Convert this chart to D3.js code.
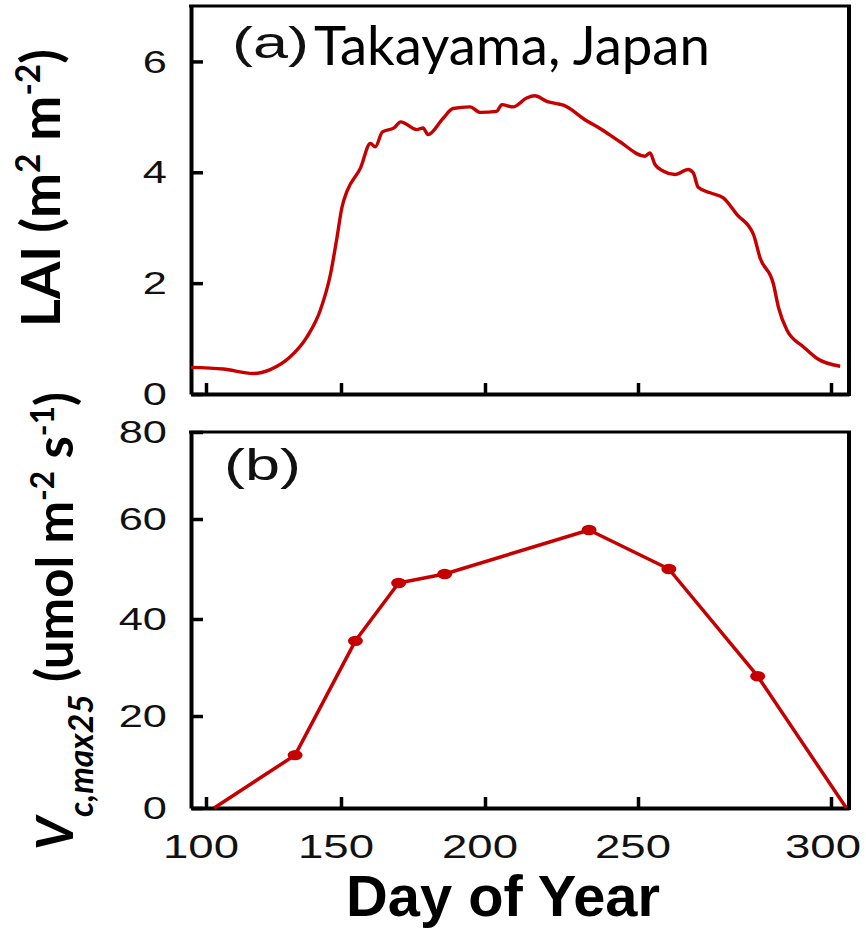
<!DOCTYPE html>
<html>
<head>
<meta charset="utf-8">
<script src="https://cdn.jsdelivr.net/npm/d3@7"></script>
<style>
  html, body { margin: 0; padding: 0; background: #fff; }
  svg { display: block; }
</style>
</head>
<body>
<svg id="chart" width="866" height="936"></svg>
<script>
// ---- data -------------------------------------------------------------
// Leaf area index through the season (day of year, m2 m-2)
const laiDay = [94.1, 106.4, 117.6, 123.8, 131.2, 137.4, 142.4, 146.1, 148.5, 150.3,
  152.1, 156.7, 160.2, 161.9, 164.4, 168.4, 170.7, 176.3, 178.5, 180.2,
  185.4, 188.9, 194.8, 198.3, 203.8, 205.5, 209.2, 213.6, 216.3, 220.2,
  223.4, 225.6, 233.2, 237.6, 244.1, 251.8, 253.1, 254.4, 256.6, 259.6,
  263.0, 264.3, 265.6, 268.7, 272.1, 275.6, 279.9, 281.6, 285.1, 286.4,
  288.6, 292.9, 296.4, 302.4];
const laiValue = [0.48, 0.45, 0.37, 0.44, 0.67, 1.03, 1.52, 2.16, 2.82, 3.36,
  3.66, 4.07, 4.52, 4.46, 4.73, 4.80, 4.91, 4.77, 4.80, 4.68,
  4.97, 5.15, 5.18, 5.08, 5.10, 5.22, 5.18, 5.34, 5.38, 5.28,
  5.24, 5.21, 4.93, 4.79, 4.55, 4.29, 4.35, 4.14, 4.02, 3.96,
  4.05, 3.99, 3.73, 3.63, 3.54, 3.24, 2.88, 2.46, 1.98, 1.56,
  1.15, 0.85, 0.64, 0.50];

// Vcmax25 (umol m-2 s-1); the first and last entries are the season bounds
const vcDay = [103, 133, 155, 170, 186, 234, 258, 281, 304];
const vcValue = [0, 11.5, 35.5, 47.2, 49.0, 57.8, 50.0, 28.2, 0];

const dayTicks = [100, 150, 200, 250, 300];
const laiTicks = [0, 2, 4, 6];
const vcTicks = [0, 20, 40, 60, 80];

// ---- layout -------------------------------------------------------------
const svg = d3.select("#chart");
const RED = "#c60000";
const left = 191, right = 849;
const panelA = { top: 6, bottom: 394 };
const panelB = { top: 432, bottom: 808 };

// Day axis: breakpoints at each labelled day
const x = d3.scaleLinear()
  .domain([94.1, 100, 150, 200, 250, 300, 304.7])
  .range([left, 206, 341, 485, 638, 831, right]);

const yA = d3.scaleLinear().domain([0, 7]).range([panelA.bottom, panelA.top]);
const yB = d3.scaleLinear()
  .domain([0, 20, 40, 60, 80])
  .range([panelB.bottom, 716, 619, 519, panelB.top]);

function drawPanel(y, p, ticks) {
  const g = svg.append("g");
  const xa = d3.axisBottom(x).tickValues(dayTicks).tickSizeInner(-11).tickSizeOuter(0).tickFormat("");
  const ya = d3.axisLeft(y).tickValues(ticks).tickSizeInner(-12).tickSizeOuter(0).tickFormat("");
  const gx = g.append("g").attr("transform", `translate(0,${p.bottom})`).call(xa);
  const gy = g.append("g").attr("transform", `translate(${left},0)`).call(ya);
  [gx, gy].forEach(a => {
    a.select(".domain").attr("stroke", "#000").attr("stroke-width", 4);
    a.selectAll(".tick line").attr("stroke", "#000").attr("stroke-width", 3.5);
  });
  // top and right borders
  g.append("line").attr("x1", left - 2).attr("x2", right + 2)
    .attr("y1", p.top).attr("y2", p.top).attr("stroke", "#000").attr("stroke-width", 3);
  g.append("line").attr("x1", right).attr("x2", right)
    .attr("y1", p.top).attr("y2", p.bottom + 2).attr("stroke", "#000").attr("stroke-width", 4);
  // y tick labels
  g.selectAll("text.ylab").data(ticks).join("text")
    .attr("class", "ylab")
    .attr("transform", d => `translate(167,${y(d)}) scale(1.4,1)`)
    .attr("dy", "0.36em")
    .attr("text-anchor", "end")
    .attr("font-family", "Liberation Sans, Arial, sans-serif")
    .attr("font-size", 31)
    .attr("fill", "#111")
    .text(d => d);
  return g;
}

drawPanel(yA, panelA, laiTicks);
drawPanel(yB, panelB, vcTicks);

// ---- panel (a): LAI curve ------------------------------------------------
const laiPts = laiDay.map((d, i) => [d, laiValue[i]]);
svg.append("path")
  .datum(laiPts)
  .attr("fill", "none")
  .attr("stroke", RED)
  .attr("stroke-width", 3.4)
  .attr("stroke-linejoin", "round")
  .attr("d", d3.line().x(d => x(d[0])).y(d => yA(d[1])).curve(d3.curveMonotoneX));

// ---- panel (b): Vcmax25 -------------------------------------------------
const vcPts = vcDay.map((d, i) => [d, vcValue[i]]);
svg.append("path")
  .datum(vcPts)
  .attr("fill", "none")
  .attr("stroke", RED)
  .attr("stroke-width", 3.5)
  .attr("stroke-linejoin", "round")
  .attr("d", d3.line().x(d => x(d[0])).y(d => yB(d[1])));
svg.selectAll("ellipse.obs").data(vcPts.slice(1, -1)).join("ellipse")
  .attr("class", "obs")
  .attr("cx", d => x(d[0])).attr("cy", d => yB(d[1]))
  .attr("rx", 7.5).attr("ry", 5.2)
  .attr("fill", RED);

// ---- day tick labels ---------------------------------------------------
const dayLabels = svg.selectAll("text.xlab").data(dayTicks).join("text")
  .attr("class", "xlab")
  .attr("transform", d => `translate(${x(d) - 5},858) scale(1.38,1)`)
  .attr("text-anchor", "middle")
  .attr("font-family", "Liberation Sans, Arial, sans-serif")
  .attr("font-size", 33)
  .attr("fill", "#111")
  .text(d => d);
// keep the last label inside the page
dayLabels.each(function(d) {
  const b = this.getBoundingClientRect();
  if (b.right > 861) {
    d3.select(this).attr("transform", `translate(${x(d) - 5 - (b.right - 861)},858) scale(1.38,1)`);
  }
});

// ---- text ----------------------------------------------------------------
function fitLength(sel, target) {
  const n = sel.node().getComputedTextLength();
  const fs = parseFloat(sel.attr("font-size"));
  sel.attr("font-size", fs * target / n);
}

svg.append("text")
  .attr("transform", "translate(232,58) scale(1.4,1)")
  .attr("font-family", "Liberation Sans, Arial, sans-serif")
  .attr("font-size", 45).attr("fill", "#111")
  .text("(a)");
const title = svg.append("text")
  .attr("x", 314).attr("y", 65)
  .attr("font-family", "Lato, sans-serif")
  .attr("font-size", 52).attr("fill", "#000")
  .text("Takayama, Japan");
fitLength(title, 396);

svg.append("text")
  .attr("transform", "translate(224,480) scale(1.4,1)")
  .attr("font-family", "Liberation Sans, Arial, sans-serif")
  .attr("font-size", 45).attr("fill", "#111")
  .text("(b)");

const xTitle = svg.append("text")
  .attr("x", 346).attr("y", 916)
  .attr("font-family", "Liberation Sans, Arial, sans-serif")
  .attr("font-weight", "bold")
  .attr("font-size", 55).attr("fill", "#000")
  .text("Day of Year");
fitLength(xTitle, 314);

// LAI (m2 m-2)
const laiTitle = svg.append("text")
  .attr("transform", "translate(60,188) rotate(-90)")
  .attr("text-anchor", "middle")
  .attr("font-family", "Lato, sans-serif")
  .attr("font-weight", "bold")
  .attr("font-size", 48).attr("fill", "#000");
laiTitle.append("tspan").text("LAI (m");
laiTitle.append("tspan").attr("baseline-shift", "super").attr("font-size", "0.62em").text("2");
laiTitle.append("tspan").text(" m");
laiTitle.append("tspan").attr("baseline-shift", "super").attr("font-size", "0.62em").text("-2");
laiTitle.append("tspan").text(")");
fitLength(laiTitle, 278);

// Vc,max25 (umol m-2 s-1)
const vcTitle = svg.append("text")
  .attr("transform", "translate(73,621) rotate(-90)")
  .attr("text-anchor", "middle")
  .attr("font-family", "Lato, sans-serif")
  .attr("font-weight", "bold")
  .attr("font-size", 52).attr("fill", "#000");
vcTitle.append("tspan").attr("font-style", "italic").text("V");
vcTitle.append("tspan").attr("baseline-shift", "sub").attr("font-size", "0.66em")
  .attr("font-style", "italic").text("c,max25");
vcTitle.append("tspan").text(" (umol m");
vcTitle.append("tspan").attr("baseline-shift", "super").attr("font-size", "0.62em").text("-2");
vcTitle.append("tspan").text(" s");
vcTitle.append("tspan").attr("baseline-shift", "super").attr("font-size", "0.62em").text("-1");
vcTitle.append("tspan").text(")");
fitLength(vcTitle, 458);
</script>
</body>
</html>
